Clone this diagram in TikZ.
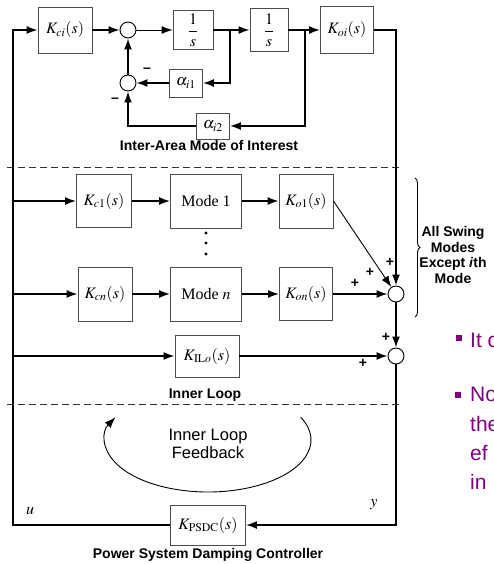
\documentclass[tikz,border=0pt]{standalone}
\usepackage{mathptmx}
\usepackage[no-math]{fontspec}
\setmainfont{Liberation Serif}
\setsansfont{Liberation Sans}
\usepackage{tikz}
\usetikzlibrary{arrows.meta,decorations.pathreplacing,calc}
\definecolor{slidepurple}{RGB}{128,0,128}

\begin{document}
\begin{tikzpicture}[x=1pt,y=-1pt,
    >={Latex[length=11pt,width=8pt]},
    wire/.style={->,line width=1.7pt},
    thinwire/.style={->,line width=0.9pt},
    blk/.style={draw=black!70,line width=0.9pt,inner sep=0pt,
      font=\fontsize{16}{18}\selectfont},
    sumpt/.style={circle,draw,line width=0.9pt,minimum size=16pt,inner sep=0pt},
    sgn/.style={font=\sffamily\bfseries\fontsize{14}{14}\selectfont,inner sep=0pt},
    caption/.style={font=\sffamily\bfseries\fontsize{14}{15.5}\selectfont,inner sep=0pt},
    sepline/.style={dash pattern=on 7pt off 4pt,line width=0.9pt,draw=black!80},
    slidetxt/.style={font=\sffamily\fontsize{21}{25}\selectfont,text=slidepurple,
      inner sep=0pt,anchor=base west},
    slidebullet/.style={rectangle,fill=slidepurple,minimum size=6pt,inner sep=0pt}
  ]
    \useasboundingbox (0,0) rectangle (493,564);
    \clip (0,0) rectangle (493,564);

    \node[blk,minimum width=54pt,minimum height=46pt] (kci) at (65,30) {$K_{ci}(s)$};
    \node[sumpt] (s1) at (128,30) {};
    \node[blk,minimum width=40pt,minimum height=39pt] (int1) at (193,30) {$\displaystyle\frac{1}{s}$};
    \node[blk,minimum width=38pt,minimum height=43pt] (int2) at (269,30) {$\displaystyle\frac{1}{s}$};
    \node[blk,minimum width=53pt,minimum height=47pt] (koi) at (347,30) {$K_{oi}(s)$};
    \node[sumpt] (s2) at (128,83) {};
    \node[blk,minimum width=33pt,minimum height=28pt] (a1) at (186,83) {$\alpha_{i1}$};
    \node[blk,minimum width=33pt,minimum height=26pt] (a2) at (213,126) {$\alpha_{i2}$};
    \coordinate (b1) at (230,30);
    \coordinate (b2) at (305,30);
    \draw[wire] (kci) -- (s1);
    \draw[thinwire] (s1) -- (int1);
    \draw[wire] (int1) -- (int2);
    \draw[wire] (int2) -- (koi);
    \draw[wire] (b1) |- (a1);
    \draw[wire] (a1) -- (s2);
    \draw[wire] (s2) -- (s1);
    \draw[wire] (b2) |- (a2);
    \draw[wire] (a2) -| (s2);
    \node[sgn] (neg1) at (147,70) {\textendash};
    \node[sgn] (neg2) at (115,100) {\textendash};
    \node[caption] (iamlbl) at (209,145) {Inter-Area Mode of Interest};

    \draw[sepline] (7,167) -- (400,167);

    \node[blk,minimum width=55pt,minimum height=53pt] (kc1) at (104,201) {$K_{c1}(s)$};
    \node[blk,minimum width=71pt,minimum height=54pt] (mode1) at (206,201) {Mode 1};
    \node[blk,minimum width=54pt,minimum height=54pt] (ko1) at (306,201) {$K_{o1}(s)$};
    \node[blk,minimum width=54pt,minimum height=54pt] (kcn) at (105,294) {$K_{cn}(s)$};
    \node[blk,minimum width=71pt,minimum height=54pt] (moden) at (206,294) {Mode $n$};
    \node[blk,minimum width=53pt,minimum height=53pt] (kon) at (306,294) {$K_{on}(s)$};
    \node[sumpt] (sumall) at (396,294) {};
    \foreach \yy in {233,243,254} \fill (206,\yy) circle (1.6pt);
    \node[blk,minimum width=64pt,minimum height=42pt] (kilo) at (207,356) {$K_{\mathrm{IL}o}(s)$};
    \node[sumpt] (sumil) at (396,356) {};
    \node[blk,minimum width=75pt,minimum height=40pt] (kpsdc) at (208,525) {$K_{\mathrm{PSDC}}(s)$};
    \coordinate (ul) at (13,30);
    \coordinate (bl) at (13,525);

    \draw[wire] (koi) -| (sumall);
    \draw[wire] (sumall) -- (sumil);
    \draw[wire] (sumil) |- (kpsdc);
    \draw[wire] (kpsdc) -- (bl) -- (ul) -- (kci);
    \draw[wire] (kc1 -| ul) -- (kc1);
    \draw[wire] (kcn -| ul) -- (kcn);
    \draw[wire] (kilo -| ul) -- (kilo);
    \draw[wire] (kc1) -- (mode1);
    \draw[wire] (mode1) -- (ko1);
    \draw[wire] (kcn) -- (moden);
    \draw[wire] (moden) -- (kon);
    \draw[wire] (kon) -- (sumall);
    \draw[thinwire] (ko1.east) -- (sumall);
    \draw[wire] (kilo) -- (sumil);
    \node[sgn] (p1) at (390,262) {+};
    \node[sgn] (p2) at (370,272) {+};
    \node[sgn] (p3) at (355,283) {+};
    \node[sgn] (p4) at (386,337) {+};
    \node[sgn] (p5) at (363,363) {+};

    \draw[decorate,decoration={brace,amplitude=5pt},line width=0.9pt] (415,178) -- (415,317);
    \node[caption,align=center] (swing) at (453,255) {All Swing\\Modes\\Except \textit{i}th\\Mode};

    \node[caption] (illbl) at (205,395) {Inner Loop};
    \draw[sepline] (7,404) -- (402,404);
    \draw[line width=0.9pt,->] (300.6,417.2) arc[start angle=-26,end angle=206,x radius=103,y radius=52];
    \node[align=center,font=\sffamily\fontsize{16.5}{18.5}\selectfont] (fbtxt) at (208,444) {Inner Loop\\Feedback};
    \node[font=\fontsize{16}{18}\selectfont] (ulbl) at (30,511) {$u$};
    \node[font=\fontsize{16}{18}\selectfont] (ylbl) at (374,505) {$y$};
    \node[caption] (psdclbl) at (208,555) {Power System Damping Controller};

    \node[slidebullet] (bul1) at (459,338) {};
    \node[slidetxt] (txt1) at (470,347) {It c};
    \node[slidebullet] (bul2) at (458,395) {};
    \node[slidetxt] (txt2) at (470,401) {No};
    \node[slidetxt] (txt3) at (470,431) {the};
    \node[slidetxt] (txt4) at (470,460) {ef};
    \node[slidetxt] (txt5) at (470,489) {in};
  \end{tikzpicture}
\end{document}
